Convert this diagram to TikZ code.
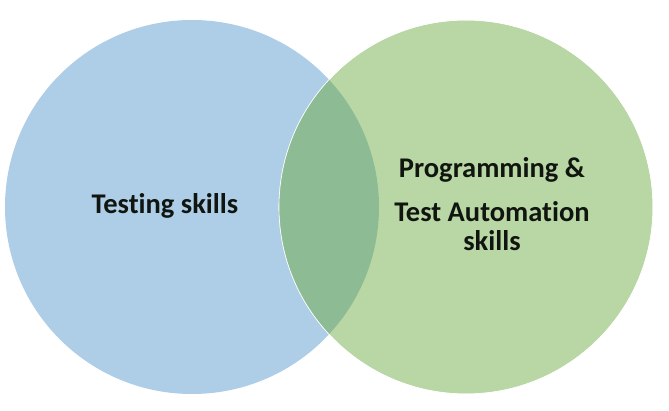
\documentclass[tikz,border=0pt]{standalone}
\usepackage{fontspec}
\setmainfont{Carlito}[Ligatures=NoCommon]
\usepackage{tikz}
\usetikzlibrary{positioning}
\definecolor{skyset}{HTML}{AECDE7}
\definecolor{leafset}{HTML}{B9D7A5}
\definecolor{overlap}{HTML}{8DBB93}
\definecolor{ink}{HTML}{101510}
\tikzset{
  setdisc/.style={circle, inner sep=0pt, minimum size=374pt},
  testdisc/.style={setdisc, fill=skyset},
  progdisc/.style={setdisc, fill=leafset, draw=white, line width=0.6pt},
  setlbl/.style={font=\fontsize{28.5}{30}\selectfont\bfseries, text=ink, align=center, inner sep=0pt}
}
\begin{document}
\begin{tikzpicture}[x=1pt, y=-1pt]
  \useasboundingbox (0,0) rectangle (669,411);
  \node[testdisc] (testset) at (192,207) {};
  \node[progdisc] (progset) at (466,207) {};
  % shared part of the two sets
  \begin{scope}
    \clip (192,207) circle (187pt);
    \fill[overlap] (466,207) circle (187pt);
  \end{scope}
  \draw[white, line width=0.6pt] (466,207) circle (187pt);
  \node[setlbl, anchor=base] (testlbl) at (165,214) {Testing skills};
  \node[setlbl, anchor=base] (proglbl) at (492,178) {Programming \&};
  \node[setlbl, anchor=base] (autolbl) at (492,222) {Test Automation};
  \node[setlbl, anchor=base] (skilllbl) at (492,251) {skills};
\end{tikzpicture}
\end{document}
